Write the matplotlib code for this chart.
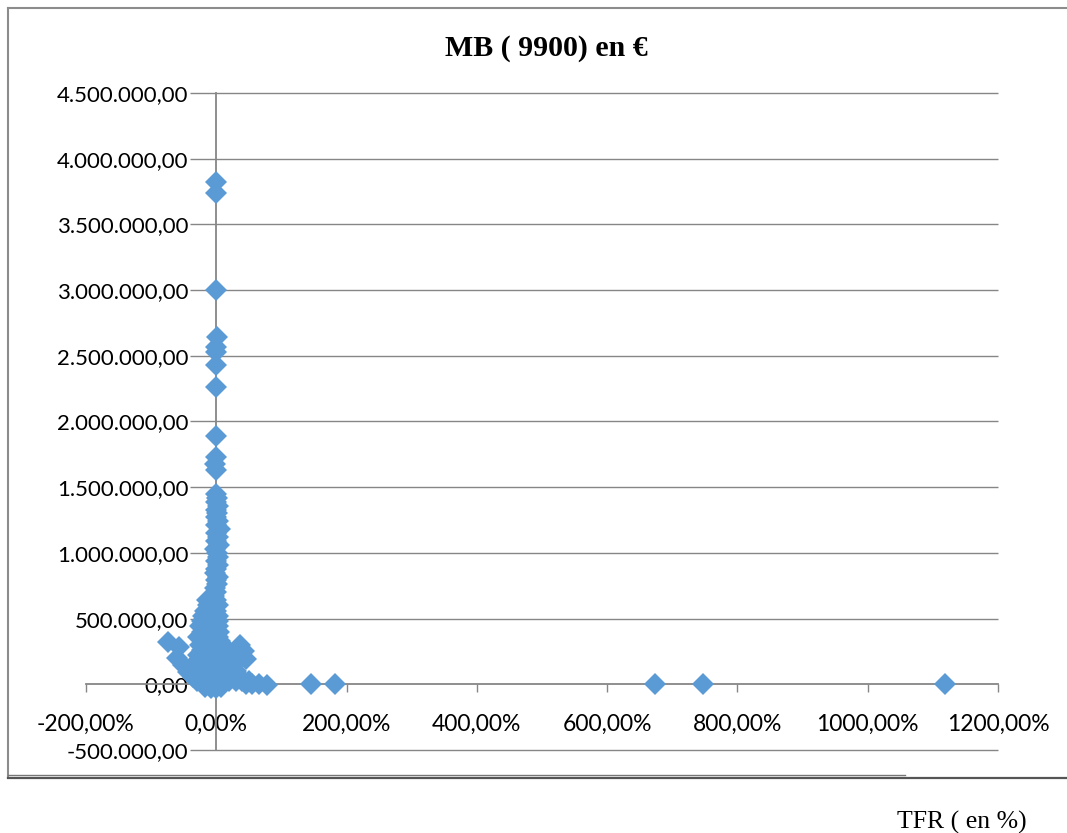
import matplotlib
matplotlib.use("Agg")
import matplotlib.pyplot as plt
from matplotlib.lines import Line2D
from matplotlib.ticker import FuncFormatter, MultipleLocator

# ---------------- data (TFR in %, MB in EUR) ----------------
far_x = [146, 183, 674, 747, 1119]
far_y = [2000, 2000, 2000, 2000, 2000]

top_x = [-1, -1, -1, 0.5, 0, -0.5, 0, -1, -1, -1, -1.5, -1]
top_y = [3820000, 3740000, 3000000, 2640000, 2570000, 2530000,
         2430000, 2260000, 1890000, 1730000, 1680000, 1630000]

col_x = [0, 1, -1, 2, 0, 1, -1, 3, 0, 5, -1, 2, 0, 4, -2, 1, 3, -1,
         2, 0, -2, 3, -1, 1, -2, 0, -4, -3]
col_y = [1450000, 1420000, 1390000, 1360000, 1330000, 1300000, 1270000,
         1240000, 1210000, 1180000, 1150000, 1120000, 1090000, 1060000,
         1030000, 1000000, 970000, 940000, 910000, 880000, 850000, 820000,
         790000, 760000, 730000, 700000, 670000, 650000]

mid_x = [-15, -5, 0, -12, 2, -18, 0, -20, -8, 2, -22, 3, -25, -10, 2,
         -22, 4, -28, -12, 3]
mid_y = [640000, 640000, 640000, 600000, 600000, 560000, 560000,
         520000, 520000, 520000, 480000, 480000, 440000, 440000, 440000,
         400000, 400000, 360000, 360000, 360000]

left_x = [-74, -58, -60, -51, -43, -35]
left_y = [320000, 282000, 198000, 145000, 91000, 53000]

right_x = [37, 42, 45, 33, 28]
right_y = [297000, 250000, 190000, 215000, 160000]

blob_x = [-20, -10, 0, 5,
          -25, -15, -5, 3, 10,
          -22, -12, 0, 8, 15,
          -28, -18, -8, 2, 12, 20,
          -30, -20, -10, 0, 10, 20, 28,
          -32, -22, -12, -2, 8, 18, 26,
          -30, -20, -10, 0, 10, 20, 30,
          -25, -15, -5, 5, 15, 25, 35,
          -30, -20, -10, 0, 10, 20, 30, 40, 50,
          45, 55, 65, 78,
          -17, -8, 0, 8]
blob_y = [330000, 330000, 330000, 330000,
          300000, 300000, 300000, 300000, 300000,
          260000, 260000, 260000, 260000, 260000,
          220000, 220000, 220000, 220000, 220000, 220000,
          180000, 180000, 180000, 180000, 180000, 180000, 180000,
          140000, 140000, 140000, 140000, 140000, 140000, 140000,
          100000, 100000, 100000, 100000, 100000, 100000, 100000,
          60000, 60000, 60000, 60000, 60000, 60000, 60000,
          25000, 25000, 25000, 25000, 25000, 25000, 25000, 25000, 25000,
          5000, 5000, 5000, -8000,
          -20000, -25000, -25000, -20000]

tfr = far_x + top_x + col_x + mid_x + left_x + right_x + blob_x
mb = far_y + top_y + col_y + mid_y + left_y + right_y + blob_y

title = "MB ( 9900) en \u20ac"
xlabel = "TFR ( en %)"

# ---------------- figure ----------------
W, H = 1067, 833
fig = plt.figure(figsize=(W / 100, H / 100), dpi=100)
fig.patch.set_facecolor("white")

def fx(px):
    return px / W

def fy(py):
    return (H - py) / H

ax = fig.add_axes([fx(86), fy(750), fx(998) - fx(86), fy(93) - fy(750)])
ax.set_xlim(-200, 1200)
ax.set_ylim(-500000, 4500000)

grid_c = "#868686"
blue = "#5B9BD5"

for yv in range(-500000, 4500001, 500000):
    if yv != 0:
        ax.hlines(yv, -40, 1200, color=grid_c, lw=1.0, zorder=1, clip_on=False)

for s in ["top", "right"]:
    ax.spines[s].set_visible(False)
ax.spines["left"].set_position(("data", 0))
ax.spines["bottom"].set_position(("data", 0))
for s in ["left", "bottom"]:
    ax.spines[s].set_color(grid_c)
    ax.spines[s].set_linewidth(1.3)
    ax.spines[s].set_zorder(2)

ax.xaxis.set_major_locator(MultipleLocator(200))
ax.yaxis.set_major_locator(MultipleLocator(500000))
ax.xaxis.set_major_formatter(FuncFormatter(lambda v, p: f"{v:.2f}%".replace(".", ",")))

def yfmt(v, p):
    s = f"{v:,.2f}"
    return s.replace(",", "X").replace(".", ",").replace("X", ".")

ax.yaxis.set_major_formatter(FuncFormatter(yfmt))

ax.tick_params(axis="x", direction="out", length=5.5, width=1.0, color=grid_c,
               pad=16, labelsize=16.5, labelcolor="black")
ax.tick_params(axis="y", length=0, pad=20, labelsize=16, labelcolor="black")
for lab in ax.get_xticklabels() + ax.get_yticklabels():
    lab.set_fontfamily("Lato")

ax.plot(tfr, mb, linestyle="none", marker="D", ms=11.5, mfc=blue, mec=blue,
        mew=0, zorder=3, clip_on=False)

fig.text(fx(546), fy(48), title, ha="center", va="center",
         fontfamily="Liberation Serif", fontweight="bold", fontsize=21.5)
fig.text(fx(962), fy(822), xlabel, ha="center", va="center",
         fontfamily="Liberation Serif", fontsize=18.5)

# chart frame
fc = "#8c8c8c"
fig.add_artist(Line2D([fx(8), fx(8)], [fy(8), fy(777)], color=fc, lw=1.5,
                      transform=fig.transFigure))
fig.add_artist(Line2D([fx(8), 1.0], [fy(8), fy(8)], color=fc, lw=1.5,
                      transform=fig.transFigure))
fig.add_artist(Line2D([fx(8), 1.0], [fy(778), fy(778)], color="#555555", lw=1.6,
                      transform=fig.transFigure))
fig.add_artist(Line2D([fx(8), fx(905)], [fy(775), fy(775)], color="#777777", lw=1.0,
                      transform=fig.transFigure))

fig.savefig("out.png", dpi=100, facecolor="white")
